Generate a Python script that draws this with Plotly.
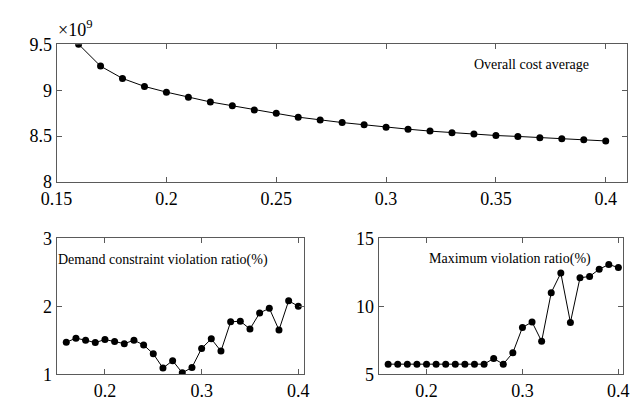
import plotly.graph_objects as go

# ---- data ----
x_vals = [0.16, 0.17, 0.18, 0.19, 0.20, 0.21, 0.22, 0.23, 0.24, 0.25, 0.26, 0.27, 0.28,
          0.29, 0.30, 0.31, 0.32, 0.33, 0.34, 0.35, 0.36, 0.37, 0.38, 0.39, 0.40]
# overall cost average, in units of 1e9
cost_avg_e9 = [9.50, 9.262, 9.128, 9.041, 8.979, 8.924, 8.872, 8.831, 8.786, 8.748, 8.707, 8.676,
               8.648, 8.624, 8.597, 8.576, 8.555, 8.538, 8.524, 8.507, 8.497, 8.483, 8.472, 8.462, 8.448]
demand_violation = [1.47, 1.53, 1.50, 1.465, 1.51, 1.48, 1.45, 1.50, 1.43, 1.30, 1.09, 1.20, 1.02,
                    1.10, 1.38, 1.52, 1.34, 1.77, 1.78, 1.665, 1.90, 1.97, 1.65, 2.08, 2.00]
max_violation = [5.74, 5.74, 5.74, 5.74, 5.74, 5.74, 5.74, 5.74, 5.74, 5.74, 5.74, 6.16, 5.74,
                 6.58, 8.44, 8.84, 7.42, 11.0, 12.44, 8.81, 12.09, 12.19, 12.72, 13.07, 12.84]

top_xticks = [0.15, 0.2, 0.25, 0.3, 0.35, 0.4]
top_xticklabels = ["0.15", "0.2", "0.25", "0.3", "0.35", "0.4"]
top_yticks = [8, 8.5, 9, 9.5]
bottom_xticks = [0.2, 0.3, 0.4]
left_yticks = [1, 2, 3]
right_yticks = [5, 10, 15]

W, H = 633, 408
FONT = "Liberation Serif"
AX = "#5a5a5a"

def px_x(p):
    return p / W

def px_y(p):
    return 1 - p / H

fig = go.Figure()
line = dict(color="black", width=1)
marker = dict(color="black", size=7)
fig.add_trace(go.Scatter(x=x_vals, y=cost_avg_e9, mode="lines+markers", line=line, marker=marker,
                         xaxis="x", yaxis="y", showlegend=False))
fig.add_trace(go.Scatter(x=x_vals, y=demand_violation, mode="lines+markers", line=line, marker=marker,
                         xaxis="x2", yaxis="y2", showlegend=False))
fig.add_trace(go.Scatter(x=x_vals, y=max_violation, mode="lines+markers", line=line, marker=marker,
                         xaxis="x3", yaxis="y3", showlegend=False))

common = dict(showline=True, linecolor=AX, linewidth=1, mirror="ticks", ticks="inside",
              ticklen=5, tickcolor=AX, showgrid=False, zeroline=False,
              tickfont=dict(family=FONT, size=18, color="black"))

fig.update_layout(
    width=W, height=H, margin=dict(l=0, r=0, t=0, b=0),
    paper_bgcolor="white", plot_bgcolor="white",
    xaxis=dict(domain=[px_x(42), px_x(632)], range=[0.15, 0.4097], tickvals=top_xticks,
               ticktext=top_xticklabels, anchor="y", **common),
    yaxis=dict(domain=[px_y(181), px_y(36)], range=[8, 9.5], tickvals=top_yticks,
               ticktext=["8", "8.5", "9", "9.5"], anchor="x", **common),
    xaxis2=dict(domain=[px_x(42), px_x(298)], range=[0.15, 0.406], tickvals=bottom_xticks,
                anchor="y2", **common),
    yaxis2=dict(domain=[px_y(383), px_y(240)], range=[1, 3], tickvals=left_yticks,
                anchor="x2", **common),
    xaxis3=dict(domain=[px_x(375), px_x(628)], range=[0.15, 0.405], tickvals=bottom_xticks,
                anchor="y3", **common),
    yaxis3=dict(domain=[px_y(383), px_y(240)], range=[5, 15], tickvals=right_yticks,
                anchor="x3", **common),
    annotations=[
        dict(text="×10<sup>9</sup>", x=px_x(41), y=px_y(34), xref="paper", yref="paper",
             xanchor="left", yanchor="bottom", showarrow=False,
             font=dict(family=FONT, size=18, color="black")),
        dict(text="Overall cost average", x=px_x(595), y=px_y(57), xref="paper", yref="paper",
             xanchor="right", yanchor="middle", showarrow=False,
             font=dict(family=FONT, size=14, color="black")),
        dict(text="Demand constraint violation ratio(%)", x=px_x(41), y=px_y(263), xref="paper",
             yref="paper", xanchor="left", yanchor="middle", showarrow=False,
             font=dict(family=FONT, size=14, color="black")),
        dict(text="Maximum violation ratio(%)", x=px_x(425), y=px_y(262), xref="paper",
             yref="paper", xanchor="left", yanchor="middle", showarrow=False,
             font=dict(family=FONT, size=14, color="black")),
    ],
)

fig.write_html("out.html")
